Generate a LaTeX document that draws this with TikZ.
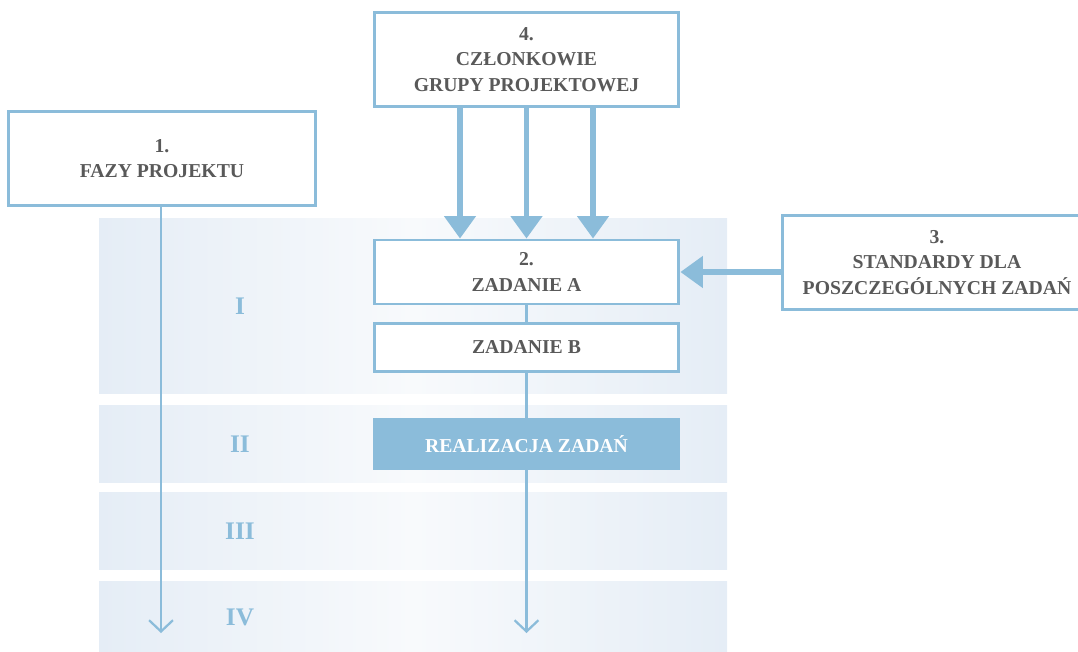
\documentclass[tikz,border=0pt]{standalone}
\usepackage{fontspec}
\setmainfont{Liberation Serif}
\usetikzlibrary{arrows.meta,positioning}

\definecolor{frameblue}{HTML}{8BBCDA}
\definecolor{bandblue}{HTML}{E5EDF6}
\definecolor{bandlight}{HTML}{F8FAFC}
\definecolor{textgray}{HTML}{595959}

\begin{document}
\begin{tikzpicture}[x=0.025cm,y=-0.025cm,
    box/.style={draw=frameblue,line width=2.1pt,fill=white,align=center,
        font=\fontsize{14}{18}\selectfont\bfseries,text=textgray,inner sep=0pt},
    donebox/.style={fill=frameblue,align=center,
        font=\fontsize{14}{18}\selectfont\bfseries,text=white,inner sep=0pt},
    phase/.style={font=\fontsize{18}{20}\selectfont\bfseries,text=frameblue},
    fatarrow/.style={draw=frameblue,line width=3.6pt,-{Triangle[length=16pt,width=22pt]}},
    thinline/.style={draw=frameblue,line width=1.9pt},
    thinarrow/.style={thinline,-{Straight Barb[length=8pt,width=17pt,line width=1.6pt]}}]
    \useasboundingbox (0,0) rectangle (1078,651);
    \clip (0,0) rectangle (1078,651);

    % phases
    \foreach \ya/\yb/\lab/\nm in {218/393/I/ph1,405/482/II/ph2,492/569/III/ph3,581/651/IV/ph4}{
        \shade[left color=bandblue,right color=bandblue,middle color=bandlight] (99,\ya) rectangle (727,\yb);
        \node[phase] (\nm) at (240,{(\ya+\yb)/2+1}) {\lab};
    }

    % boxes
    \node[box,minimum width=7.62cm,minimum height=2.37cm] (members) at (526.5,59.5)
        {4.\\CZŁONKOWIE\\GRUPY PROJEKTOWEJ};
    \node[box,minimum width=7.65cm,minimum height=2.37cm] (phases) at (162,158.5)
        {1.\\FAZY PROJEKTU};
    \node[box,minimum width=7.62cm,minimum height=1.6cm] (taskA) at (526.5,272)
        {2.\\ZADANIE A};
    \node[box,minimum width=7.62cm,minimum height=1.22cm] (taskB) at (526.5,347.5)
        {ZADANIE B};
    \node[donebox,minimum width=7.65cm,minimum height=1.3cm] (done) at (526.5,444)
        {REALIZACJA ZADAŃ};
    \node[box,minimum width=7.7cm,minimum height=2.37cm] (standards) at (937,262.5)
        {3.\\STANDARDY DLA\\POSZCZEGÓLNYCH ZADAŃ};

    \coordinate (endL) at (161,633);
    \coordinate (endR) at (526.5,633);

    % connectors
    \foreach \xx in {460,526.5,593}
        \draw[fatarrow] (members.south -| \xx,0) -- (taskA.north -| \xx,0);
    \draw[fatarrow] (standards.west |- taskA.east) -- (taskA.east);
    \draw[thinarrow] (phases.south -| endL) -- (endL);
    \draw[thinline] (taskA) -- (taskB);
    \draw[thinline] (taskB) -- (done);
    \draw[thinarrow] (done.south) -- (endR);
\end{tikzpicture}
\end{document}
